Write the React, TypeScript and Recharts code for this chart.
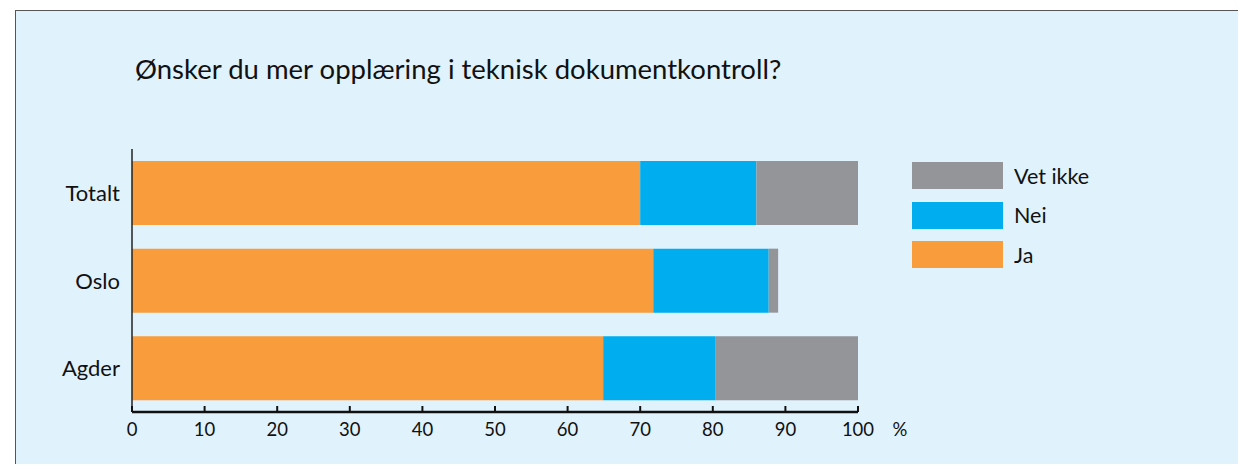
import React from 'react';
import { BarChart, Bar, XAxis, YAxis } from 'recharts';

const categories = ['Totalt', 'Oslo', 'Agder'];
const jaValues = [70, 71.8, 64.9];
const neiValues = [16, 15.9, 15.5];
const vetIkkeValues = [14, 1.3, 19.6];
const xTicks = [0, 10, 20, 30, 40, 50, 60, 70, 80, 90, 100];
const title = 'Ønsker du mer opplæring i teknisk dokumentkontroll?';

const FONT = 'Lato, "Noto Sans", sans-serif';

const series = [
    { key: 'vetIkke', name: 'Vet ikke', color: '#939598' },
    { key: 'nei', name: 'Nei', color: '#00aeef' },
    { key: 'ja', name: 'Ja', color: '#f99d3c' },
];

const chartData = categories.map((name, i) => ({
    name,
    ja: jaValues[i],
    nei: neiValues[i],
    vetIkke: vetIkkeValues[i],
}));

function XTick({ x, y, payload }: any) {
    return (
        <g>
            <line x1={x} x2={x} y1={y} y2={y - 6} stroke="#111" strokeWidth={2} />
            <text x={x} y={y + 24} textAnchor="middle" fontSize={18.5} fill="#111" fontFamily={FONT}>
                {payload.value}
            </text>
            {payload.value === 100 && (
                <text x={x + 42} y={y + 24} textAnchor="middle" fontSize={18.5} fill="#111" fontFamily={FONT}>
                    %
                </text>
            )}
        </g>
    );
}

function YTick({ x, y, payload }: any) {
    return (
        <text x={x} y={y + 8} textAnchor="end" fontSize={22} fill="#111" fontFamily={FONT}>
            {payload.value}
        </text>
    );
}

// legend is plain html so it doesn't eat into the plot area
function LegendBox() {
    return (
        <div style={{ position: 'absolute', left: 912, top: 156, fontFamily: FONT }}>
            {series.map((s) => (
                <div key={s.key} style={{ display: 'flex', alignItems: 'center', height: 39.5 }}>
                    <div style={{ width: 91, height: 27, background: s.color }} />
                    <span style={{ marginLeft: 11, fontSize: 21.5, color: '#111' }}>{s.name}</span>
                </div>
            ))}
        </div>
    );
}

export default function App() {
    return (
        <div style={{ position: 'relative', width: 1246, height: 472, margin: -8, overflow: 'hidden' }}>
            <div
                style={{
                    position: 'absolute',
                    left: 15,
                    top: 10,
                    width: 1230,
                    height: 470,
                    background: '#e0f2fc',
                    border: '1px solid #555',
                }}
            />
            <div
                style={{
                    position: 'absolute',
                    left: 135,
                    top: 51,
                    fontSize: 27.5,
                    lineHeight: '36px',
                    fontFamily: FONT,
                    color: '#111',
                    whiteSpace: 'nowrap',
                }}
            >
                {title}
            </div>
            <LegendBox />
            <div style={{ position: 'absolute', left: 0, top: 0 }}>
                <BarChart
                    width={1246}
                    height={472}
                    data={chartData}
                    layout="vertical"
                    margin={{ top: 149, right: 388, bottom: 0, left: 0 }}
                    barSize={64}
                >
                    <XAxis
                        type="number"
                        domain={[0, 100]}
                        ticks={xTicks}
                        height={60}
                        tickSize={0}
                        tickMargin={0}
                        tickLine={false}
                        axisLine={{ stroke: '#111', strokeWidth: 2.5 }}
                        tick={<XTick />}
                        interval={0}
                    />
                    <YAxis
                        type="category"
                        dataKey="name"
                        width={132}
                        tickSize={0}
                        tickMargin={12}
                        tickLine={false}
                        axisLine={{ stroke: '#222', strokeWidth: 1.5 }}
                        tick={<YTick />}
                    />
                    <Bar dataKey="ja" name="Ja" stackId="a" fill="#f99d3c" isAnimationActive={false} />
                    <Bar dataKey="nei" name="Nei" stackId="a" fill="#00aeef" isAnimationActive={false} />
                    <Bar dataKey="vetIkke" name="Vet ikke" stackId="a" fill="#939598" isAnimationActive={false} />
                </BarChart>
            </div>
        </div>
    );
}
